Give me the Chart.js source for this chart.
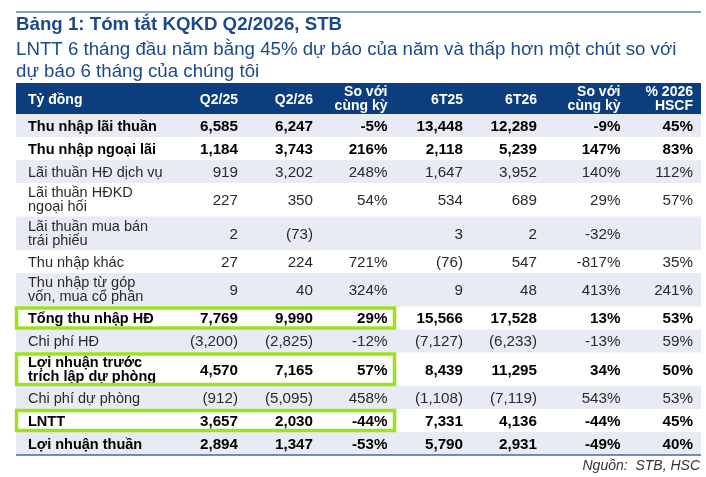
<!DOCTYPE html>
<html>
<head>
<meta charset="utf-8">
<script src="https://cdn.jsdelivr.net/npm/chart.js@4.4.1/dist/chart.umd.min.js"></script>
<style>
  html, body { margin: 0; padding: 0; background: #ffffff; }
  #wrap { width: 706px; height: 477px; }
</style>
</head>
<body>
<div id="wrap"><canvas id="c" width="706" height="477"></canvas></div>
<script>
// ---------------- DATA ----------------
const titleText = 'Bảng 1: Tóm tắt KQKD Q2/2026, STB';
const subtitleLines = [
  'LNTT 6 tháng đầu năm bằng 45% dự báo của năm và thấp hơn một chút so với',
  'dự báo 6 tháng của chúng tôi'
];
const headerLabels = ['Tỷ đồng', 'Q2/25', 'Q2/26', ['So với', 'cùng kỳ'], '6T25', '6T26', ['So với', 'cùng kỳ'], ['% 2026', 'HSCF']];
const rowLabels = [
  'Thu nhập lãi thuần',
  'Thu nhập ngoại lãi',
  'Lãi thuần HĐ dịch vụ',
  ['Lãi thuần HĐKD', 'ngoại hối'],
  ['Lãi thuần mua bán', 'trái phiếu'],
  'Thu nhập khác',
  ['Thu nhập từ góp', 'vốn, mua cổ phần'],
  'Tổng thu nhập HĐ',
  'Chi phí HĐ',
  ['Lợi nhuận trước', 'trích lập dự phòng'],
  'Chi phí dự phòng',
  'LNTT',
  'Lợi nhuận thuần'
];
const q225 = [6585, 1184, 919, 227, 2, 27, 9, 7769, -3200, 4570, -912, 3657, 2894];
const q226 = [6247, 3743, 3202, 350, -73, 224, 40, 9990, -2825, 7165, -5095, 2030, 1347];
const yoyQ = [-5, 216, 248, 54, null, 721, 324, 29, -12, 57, 458, -44, -53];
const h125 = [13448, 2118, 1647, 534, 3, -76, 9, 15566, -7127, 8439, -1108, 7331, 5790];
const h126 = [12289, 5239, 3952, 689, 2, 547, 48, 17528, -6233, 11295, -7119, 4136, 2931];
const yoyH = [-9, 147, 140, 29, -32, -817, 413, 13, -13, 34, 543, -44, -49];
const hscf = [45, 83, 112, 57, null, 35, 241, 53, 59, 50, 53, 45, 40];
const boldRows = [0, 1, 7, 9, 11, 12];
const highlightRows = [7, 9, 11];
const sourceText = 'Nguồn:  STB, HSC';

// ---------------- LAYOUT / STYLE ----------------
const FONT = '"Liberation Sans", Arial, Helvetica, sans-serif';
const columns = [
  { values: rowLabels, kind: 'label' },
  { values: q225, kind: 'num' },
  { values: q226, kind: 'num' },
  { values: yoyQ, kind: 'pct' },
  { values: h125, kind: 'num' },
  { values: h126, kind: 'num' },
  { values: yoyH, kind: 'pct' },
  { values: hscf, kind: 'pct' }
];
const colAnchor = [12, 222, 297, 371.5, 447, 521, 604.5, 677]; // x-scale units
const X_MAX = 685;
const HEADER_H = 31, ROW1_H = 23, ROW2_H = 33.5;
const rowH = rowLabels.map(l => Array.isArray(l) ? ROW2_H : ROW1_H);
const rowTop = [];
{ let acc = HEADER_H; rowH.forEach((h) => { rowTop.push(acc); acc += h; }); }
const Y_MAX = HEADER_H + rowH.reduce((a, b) => a + b, 0);
const rowCenter = rowTop.map((t, i) => t + rowH[i] / 2);

const COLORS = {
  title: '#1b4a8a', header: '#0c3d7e', stripe: '#e8ebf3', rule: '#5c85bb',
  bottomRule: '#3d6ca9', bold: '#000000', regular: '#2a2a2a', box: '#9de21e', source: '#333333'
};

function fmtNum(v) {
  if (v === null || v === undefined) return '';
  const s = Math.abs(v).toLocaleString('en-US');
  return v < 0 ? '(' + s + ')' : s;
}
function fmtPct(v) {
  if (v === null || v === undefined) return '';
  return v + '%';
}

const datasets = columns.map((col, c) => ({
  label: 'col' + c,
  data: rowLabels.map((_, r) => ({ x: colAnchor[c], y: rowCenter[r] })),
  pointRadius: 0,
  pointHoverRadius: 0,
  showLine: false,
  cellValues: col.values,
  cellKind: col.kind
}));

const tablePlugin = {
  id: 'tablePlugin',
  beforeDatasetsDraw(chart) {
    const { ctx, chartArea: a, scales: { x, y } } = chart;
    ctx.save();
    ctx.fillStyle = COLORS.header;
    ctx.fillRect(a.left, y.getPixelForValue(0), a.right - a.left, y.getPixelForValue(HEADER_H) - y.getPixelForValue(0));
    ctx.fillStyle = COLORS.stripe;
    rowLabels.forEach((_, r) => {
      if (r % 2 === 0) {
        const t = y.getPixelForValue(rowTop[r]);
        const b = y.getPixelForValue(rowTop[r] + rowH[r]);
        ctx.fillRect(a.left, t, a.right - a.left, b - t);
      }
    });
    ctx.strokeStyle = COLORS.rule;
    ctx.lineWidth = 1.5;
    ctx.beginPath();
    ctx.moveTo(a.left, 12);
    ctx.lineTo(a.right, 12);
    ctx.stroke();
    ctx.restore();
  },
  afterDatasetsDraw(chart) {
    const { ctx, chartArea: a, scales: { x, y } } = chart;
    ctx.save();
    ctx.textBaseline = 'middle';
    const hc = y.getPixelForValue(HEADER_H / 2);
    ctx.fillStyle = '#ffffff';
    ctx.font = 'bold 14px ' + FONT;
    headerLabels.forEach((h, c) => {
      const px = x.getPixelForValue(colAnchor[c]);
      ctx.textAlign = c === 0 ? 'left' : 'right';
      if (Array.isArray(h)) {
        ctx.fillText(h[0], px, hc - 6.5);
        ctx.fillText(h[1], px, hc + 7.5);
      } else {
        ctx.fillText(h, px, hc + 2);
      }
    });
    chart.data.datasets.forEach((ds, c) => {
      const meta = chart.getDatasetMeta(c);
      meta.data.forEach((pt, r) => {
        const bold = boldRows.includes(r);
        const v = ds.cellValues[r];
        ctx.fillStyle = bold ? COLORS.bold : COLORS.regular;
        if (ds.cellKind === 'label') {
          ctx.textAlign = 'left';
          ctx.font = (bold ? 'bold ' : '') + '14.5px ' + FONT;
          if (Array.isArray(v)) {
            ctx.fillText(v[0], pt.x, pt.y - 6.5);
            ctx.fillText(v[1], pt.x, pt.y + 7.5);
          } else {
            ctx.fillText(v, pt.x, pt.y + 1.2);
          }
        } else {
          ctx.textAlign = 'right';
          ctx.font = (bold ? 'bold ' : '') + '15.2px ' + FONT;
          const s = ds.cellKind === 'num' ? fmtNum(v) : fmtPct(v);
          ctx.fillText(s, pt.x, pt.y + 1.3);
        }
      });
    });
    ctx.strokeStyle = COLORS.box;
    ctx.lineWidth = 3.5;
    highlightRows.forEach(r => {
      const t = y.getPixelForValue(rowTop[r]) + 1.5;
      const b = y.getPixelForValue(rowTop[r] + rowH[r]) - 1.5;
      const l = a.left + 0.5;
      const rr = x.getPixelForValue(colAnchor[3] + 7);
      ctx.strokeRect(l, t, rr - l, b - t);
    });
    ctx.strokeStyle = COLORS.bottomRule;
    ctx.lineWidth = 1.5;
    ctx.beginPath();
    ctx.moveTo(a.left, a.bottom);
    ctx.lineTo(a.right, a.bottom);
    ctx.stroke();
    ctx.fillStyle = COLORS.source;
    ctx.font = 'italic 14px ' + FONT;
    ctx.textAlign = 'right';
    ctx.fillText(sourceText, a.right - 1, a.bottom + 11.5);
    ctx.restore();
  }
};

new Chart(document.getElementById('c'), {
  type: 'scatter',
  data: { datasets },
  options: {
    responsive: false,
    devicePixelRatio: 1,
    animation: false,
    events: [],
    layout: { padding: { left: 16, right: 5, top: 4, bottom: 22 } },
    scales: {
      x: { type: 'linear', min: 0, max: X_MAX, display: false },
      y: { type: 'linear', min: 0, max: Y_MAX, reverse: true, display: false }
    },
    plugins: {
      legend: { display: false },
      tooltip: { enabled: false },
      title: {
        display: true, text: titleText, align: 'start', color: COLORS.title,
        font: { family: FONT, size: 18.7, weight: 'bold', lineHeight: 1.1765 },
        padding: { top: 10, bottom: 3 }
      },
      subtitle: {
        display: true, text: subtitleLines, align: 'start', color: COLORS.title,
        font: { family: FONT, size: 18.7, weight: 'normal', lineHeight: 1.1765 },
        padding: { top: 0, bottom: 0 }
      }
    }
  },
  plugins: [tablePlugin]
});
</script>
</body>
</html>
